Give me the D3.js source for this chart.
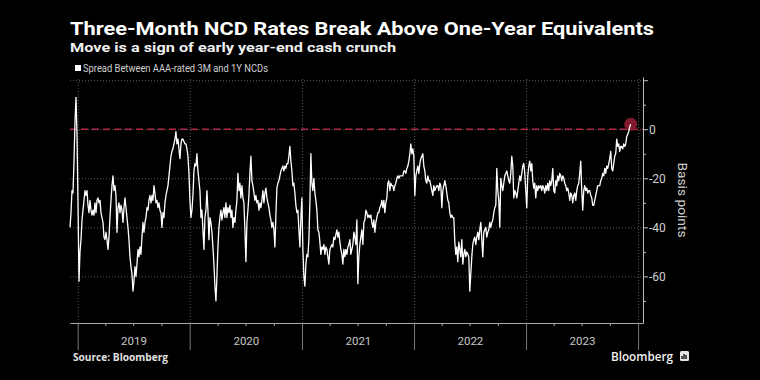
<!DOCTYPE html>
<html><head><meta charset="utf-8">
<script src="https://cdn.jsdelivr.net/npm/d3@7"></script>
<style>html,body{margin:0;padding:0;background:#000;}svg{display:block}</style>
</head><body>
<svg id="c" width="760" height="380"></svg>
<script>
// ---------- data ----------
const titleText = "Three-Month NCD Rates Break Above One-Year Equivalents";
const subtitleText = "Move is a sign of early year-end cash crunch";
const seriesName = "Spread Between AAA-rated 3M and 1Y NCDs";
const sourceText = "Source: Bloomberg";
const axisTitle = "Basis points";
const yMajorTicks = [20, 0, -20, -40, -60];
const yMajorLabels = ["", "0", "-20", "-40", "-60"];
const yMinorTicks = [10, -10, -30, -50, -70];
const years = ["2019", "2020", "2021", "2022", "2023"];
const firstDate = "2018-12-07";
const lastDate = "2023-12-08";
// spread (bp), evenly spaced observations from firstDate to lastDate
const spread = [
-40,-34,-25,-26,-13,3,13,-2,-30,-62,
-50,-45,-37,-33,-29,-25,-27,-25,-31,-34,
-29,-33,-35,-33,-35,-30,-34,-29,-28,-30,
-29,-34,-36,-38,-44,-45,-42,-45,-49,-44,
-36,-29,-23,-19,-25,-23,-27,-42,-32,-30,
-34,-31,-33,-38,-32,-28,-32,-36,-40,-45,
-52,-56,-59,-66,-62,-56,-60,-55,-49,-52,
-48,-51,-44,-38,-42,-38,-36,-32,-33,-29,
-27,-30,-27,-29,-23,-26,-30,-29,-32,-30,
-33,-34,-40,-34,-36,-30,-27,-25,-23,-19,
-15,-11,-9,-8,-6,-4,-1,-6,-4,-8,
-12,-6,-4,-4,
-5,-6,-6,-8,-11,-18,-29,-36,-33,-27,
-17,-14,-15,-10,-17,-21,-25,-36,-33,-41,
-49,-36,-33,-25,-33,-45,-36,-38,-42,-48,
-55,-64,-70,-60,-48,-40,-36,-33,-37,-34,
-32,-36,-30,-36,-32,-34,-31,-36,-33,-40,
-36,-38,-33,-29,-18,-25,-22,-28,-23,-28,
-30,-41,-54,-38,-33,-27,-18,-11,-21,-23,
-26,-29,-27,-30,-29,-33,-30,-32,-29,-25,
-30,-26,-24,-28,-30,-32,-35,-37,-40,-38,
-41,-48,-35,-24,-22,-21,-19,-17,-16,-15,
-17,-15,-16,-14,-14,-11,-7,-13,-17,-23,
-22,-26,-31,-34,-33,-41,
-48,-36,-28,-49,-60,-64,-55,-51,-52,-45,
-30,-10,-22,-25,-20,-26,-29,-33,-41,-42,
-46,-51,-48,-49,-47,-51,-48,-49,-52,-55,
-49,-48,-47,-48,-44,-45,-43,-41,-44,-42,
-46,-49,-51,-55,-49,-52,-49,-51,-48,-47,
-45,-51,-49,-47,-42,-44,-47,-37,-63,-52,
-47,-44,-41,-47,-38,-37,-33,-34,-36,-35,
-36,-35,-38,-40,-37,-42,-38,-36,-34,-34,
-32,-31,-29,-32,-29,-34,-30,-28,-22,-21,
-25,-22,-23,-23,-25,-23,-22,-20,-19,-20,
-19,-19,-19,-19,-17,-17,-18,-16,-15,-13,
-10,-6,-10,-8,-11,-27,
-19,-17,-15,-18,-14,-12,-11,-10,-15,-17,
-21,-22,-19,-21,-21,-23,-25,-27,-23,-25,
-24,-23,-23,-25,-22,-23,-32,-25,-23,-21,
-23,-26,-29,-30,-34,-36,-35,-36,-36,-46,
-51,-48,-54,-46,-49,-52,-45,-55,-51,-49,
-52,-50,-51,-52,-66,-59,-52,-47,-45,-44,
-47,-44,-42,-45,-41,-38,-45,-52,-42,-41,
-40,-44,-42,-41,-38,-40,-38,-37,-34,-32,
-31,-16,-25,-29,-40,-20,-23,-25,-22,-19,
-18,-17,-19,-21,-22,-18,-11,-15,-28,-25,
-26,-28,-25,-22,-19,-21,-18,-15,-14,-18,
-25,-32,-19,-15,-13,-17,
-14,-21,-24,-22,-28,-23,-25,-23,-24,-23,
-25,-23,-24,-26,-23,-25,-22,-25,-21,-23,
-21,-16,-25,-26,-21,-23,-19,-21,-18,-19,
-21,-19,-20,-22,-23,-25,-24,-26,-29,-26,
-27,-30,-27,-26,-29,-25,-23,-22,-18,-13,
-25,-33,-25,-23,-25,-24,-26,-25,-25,-27,
-28,-31,-31,-29,-27,-25,-23,-23,-23,-21,
-20,-18,-19,-16,-18,-15,-16,-14,-12,-9,
-16,-17,-14,-11,-10,-4,-7,-6,-9,-7,
-7,-8,-6,-7,-6,-3,-2,-1,1,2
];

// ---------- layout ----------
const W = 760, H = 380;
const L = 70, R = 643, T = 77, B = 323;
const parse = d3.timeParse("%Y-%m-%d");
const t0 = parse(firstDate), t1 = parse(lastDate);
const data = spread.map((v, i) => ({ date: new Date(+t0 + (t1 - t0) * i / (spread.length - 1)), v }));

const x = d3.scaleTime().domain([parse("2018-12-07"), parse("2024-01-17")]).range([L, R]);
const y = d3.scaleLinear().domain([-79, 21.3]).range([B, T]);

const svg = d3.select("#c");
svg.append("rect").attr("width", W).attr("height", H).attr("fill", "#000");

const yearStarts = d3.range(2019, 2025).map(yr => new Date(yr, 0, 1));
const quarters = [];
for (let yr = 2019; yr <= 2023; yr++) for (const m of [3, 6, 9]) quarters.push(new Date(yr, m, 1));
const midYears = years.map(yr => new Date(+yr, 6, 2));

// gridlines
const gridH = svg.append("g").attr("transform", `translate(${L},0)`)
  .call(d3.axisLeft(y).tickValues(yMajorTicks).tickSize(-(R - L)).tickFormat(""));
gridH.select(".domain").remove();
gridH.selectAll("line").attr("stroke", "#5a5a5a").attr("stroke-dasharray", "1,2");

const gridV = svg.append("g").attr("transform", `translate(0,${B})`)
  .call(d3.axisBottom(x).tickValues(yearStarts).tickSize(-(B - T)).tickFormat(""));
gridV.select(".domain").remove();
gridV.selectAll("line").attr("stroke", "#5a5a5a").attr("stroke-dasharray", "1,2");

// bottom axis
const xAxisMinor = svg.append("g").attr("transform", `translate(0,${B})`)
  .call(d3.axisBottom(x).tickValues(quarters).tickSize(3).tickSizeOuter(0).tickFormat(""));
xAxisMinor.select(".domain").attr("stroke", "#aaa");
xAxisMinor.selectAll("line").attr("stroke", "#aaa");
const xAxisMajor = svg.append("g").attr("transform", `translate(0,${B})`)
  .call(d3.axisBottom(x).tickValues(yearStarts).tickSize(27).tickSizeOuter(0).tickFormat(""));
xAxisMajor.select(".domain").remove();
xAxisMajor.selectAll("line").attr("stroke", "#777");
const xLabels = svg.append("g").attr("transform", `translate(0,${B})`)
  .call(d3.axisBottom(x).tickValues(midYears).tickSize(0).tickPadding(14).tickFormat((d, i) => years[i]));
xLabels.select(".domain").remove();
xLabels.selectAll("text").attr("fill", "#c8c8c8").attr("font-family", "Roboto, sans-serif").attr("font-size", "11.5px");

// right axis
const yAxis = svg.append("g").attr("transform", `translate(${R},0)`)
  .call(d3.axisRight(y).tickValues(yMajorTicks).tickSize(5).tickSizeOuter(0).tickPadding(1)
    .tickFormat((d, i) => yMajorLabels[i]));
yAxis.select(".domain").attr("stroke", "#bbb");
yAxis.selectAll("line").attr("stroke", "#bbb");
yAxis.selectAll("text").attr("fill", "#d0d0d0").attr("font-family", "Roboto, sans-serif").attr("font-size", "12px");
const yAxisMinor = svg.append("g").attr("transform", `translate(${R},0)`)
  .call(d3.axisRight(y).tickValues(yMinorTicks).tickSize(3).tickSizeOuter(0).tickFormat(""));
yAxisMinor.select(".domain").remove();
yAxisMinor.selectAll("line").attr("stroke", "#bbb");

// zero reference line
svg.append("line").attr("x1", L).attr("x2", R).attr("y1", y(0)).attr("y2", y(0))
  .attr("stroke", "#b02a44").attr("stroke-width", 1.5).attr("stroke-dasharray", "7,4");

// highlight circle at last point
const last = data[data.length - 1];
svg.append("circle").attr("cx", x(last.date)).attr("cy", y(last.v)).attr("r", 6.5)
  .attr("fill", "#8c1b30").attr("opacity", 0.92);

// series line
svg.append("path").datum(data)
  .attr("d", d3.line().x(d => x(d.date)).y(d => y(d.v)))
  .attr("fill", "none").attr("stroke", "#fff").attr("stroke-width", 1.3)
  .attr("stroke-linejoin", "round");

// axis title
svg.append("text").attr("transform", `translate(678,200) rotate(90)`)
  .attr("text-anchor", "middle").attr("fill", "#d0d0d0")
  .attr("font-family", "Roboto, sans-serif").attr("font-size", "13.5px")
  .attr("textLength", 75).attr("lengthAdjust", "spacingAndGlyphs").text(axisTitle);

// titles
svg.append("text").attr("x", 70).attr("y", 34.5).attr("fill", "#fff")
  .attr("font-family", "Roboto, sans-serif").attr("font-weight", 700).attr("font-size", "18px")
  .attr("textLength", 584).attr("lengthAdjust", "spacingAndGlyphs").text(titleText);
svg.append("text").attr("x", 70).attr("y", 52).attr("fill", "#f0f0f0")
  .attr("font-family", "Roboto, sans-serif").attr("font-weight", 700).attr("font-size", "13.5px")
  .attr("textLength", 326).attr("lengthAdjust", "spacingAndGlyphs").text(subtitleText);

// legend
svg.append("rect").attr("x", 75).attr("y", 65).attr("width", 6).attr("height", 6).attr("fill", "#fff");
svg.append("text").attr("x", 83).attr("y", 71.5).attr("fill", "#d0d0d0")
  .attr("font-family", "Roboto, sans-serif").attr("font-size", "10px")
  .attr("textLength", 185).attr("lengthAdjust", "spacingAndGlyphs").text(seriesName);

// footer
svg.append("text").attr("x", 73).attr("y", 361).attr("fill", "#e0e0e0")
  .attr("font-family", "'Open Sans', sans-serif").attr("font-weight", 700).attr("font-size", "10px")
  .attr("textLength", 95).attr("lengthAdjust", "spacingAndGlyphs").text(sourceText);
svg.append("text").attr("x", 611).attr("y", 361).attr("fill", "#f2f2f2")
  .attr("font-family", "'Open Sans', sans-serif").attr("font-weight", 600).attr("font-size", "13px")
  .attr("textLength", 62).attr("lengthAdjust", "spacingAndGlyphs").text("Bloomberg");
const logo = svg.append("g").attr("transform", "translate(680,351)");
logo.append("rect").attr("width", 9).attr("height", 10).attr("rx", 1.5).attr("fill", "#e6e6e6");
[[2, 5, 1.3], [4, 3, 1.3], [6, 4, 1.3]].forEach(([bx, by, bw]) =>
  logo.append("rect").attr("x", bx - 0.6).attr("y", by).attr("width", bw).attr("height", 8 - by).attr("fill", "#000"));
</script>
</body></html>
